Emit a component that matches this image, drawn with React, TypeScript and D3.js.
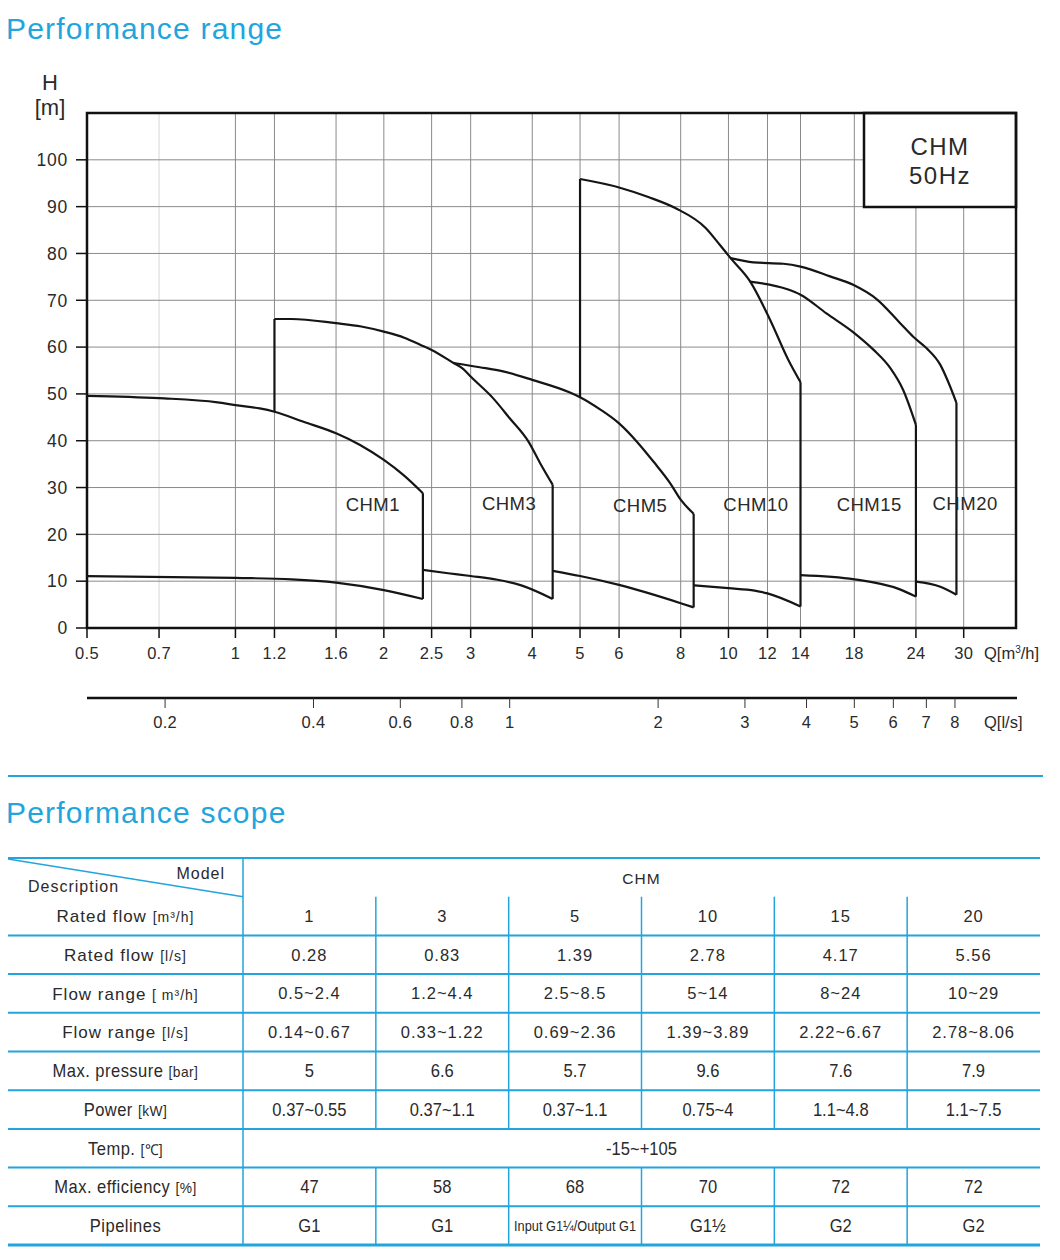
import React from "react";
import * as d3 from "d3";

// ---- chart data ----
const pumpNames = ["CHM1", "CHM3", "CHM5", "CHM10", "CHM15", "CHM20"];

// upper (max stages) curves
const upperQ = [
  [0.5, 0.7, 0.92, 1, 1.12, 1.2, 1.37, 1.6, 1.79, 2, 2.19, 2.4],
  [1.2, 1.3, 1.6, 1.8, 2, 2.2, 2.37, 2.5, 2.77, 2.9, 3, 3.33, 3.6, 3.93, 4.15, 4.4],
  [2.77, 3.13, 3.49, 4, 4.77, 5, 5.49, 6, 6.52, 7.05, 7.62, 8, 8.5],
  [5, 6, 6.9, 7.8, 9, 9.61, 10.1, 11.07, 12.15, 13.22, 14],
  [11.05, 13.12, 14, 15.8, 18, 19.7, 21.3, 22.6, 24],
  [10.1, 11.24, 12.92, 14, 16.07, 17.9, 20, 22.3, 23.7, 25.2, 26.9, 27.9, 29],
];
const upperH = [
  [49.6, 49.1, 48.2, 47.6, 46.9, 46.2, 44.1, 41.6, 39.1, 35.9, 32.7, 28.8],
  [66.0, 66.0, 65.1, 64.4, 63.3, 62.0, 60.5, 59.4, 56.6, 55.3, 53.7, 49.1, 44.8, 39.8, 35.2, 30.6],
  [56.6, 55.7, 54.8, 53.0, 50.3, 49.3, 46.7, 43.7, 39.8, 35.5, 30.9, 27.4, 24.4],
  [95.9, 94.1, 92.0, 89.7, 85.4, 81.8, 79.0, 74.0, 65.8, 57.3, 52.5],
  [74.0, 72.4, 71.2, 67.2, 63.0, 59.4, 55.5, 50.9, 43.4],
  [79.0, 78.1, 77.8, 77.2, 75.1, 73.3, 70.2, 65.1, 62.2, 59.8, 56.2, 52.6, 48.1],
];

// lower (min stages) curves
const lowerQ = [
  [0.5, 1, 1.3, 1.6, 2, 2.4],
  [2.4, 2.7, 3, 3.4, 3.8, 4.4],
  [4.4, 5, 6, 8, 8.5],
  [8.5, 10, 11.3, 12, 14],
  [14, 18, 22.2, 24],
  [24, 26.9, 29],
];
const lowerH = [
  [11.1, 10.7, 10.4, 9.7, 8.1, 6.2],
  [12.4, 11.7, 11.1, 10.3, 9.1, 6.2],
  [12.2, 11.1, 9.2, 5.3, 4.4],
  [9.1, 8.5, 8.0, 7.4, 4.6],
  [11.3, 10.4, 8.3, 6.7],
  [9.9, 8.8, 7.1],
];

// head where a left vertical border stops (null = none)
const leftDropH = [null, 46.2, null, 49.3, null, null];

// label anchor points in data units
const labelQ = [1.9, 3.59, 6.62, 11.37, 19.3, 30.2];
const labelH = [26.5, 26.7, 26.3, 26.5, 26.5, 26.7];

const headTicks = d3.range(0, 101, 10);
const flowTicks = [0.5, 0.7, 1, 1.2, 1.6, 2, 2.5, 3, 4, 5, 6, 8, 10, 12, 14, 18, 24, 30];
const flowGrid = [0.7, 1, 1.2, 1.6, 2, 2.5, 3, 4, 5, 6, 8, 10, 12, 14, 18, 24, 30];
const lsTicks = [0.2, 0.4, 0.6, 0.8, 1, 2, 3, 4, 5, 6, 7, 8];

// ---- table data ----
const ratedFlowM3h = ["1", "3", "5", "10", "15", "20"];
const ratedFlowLs = ["0.28", "0.83", "1.39", "2.78", "4.17", "5.56"];
const flowRangeM3h = ["0.5~2.4", "1.2~4.4", "2.5~8.5", "5~14", "8~24", "10~29"];
const flowRangeLs = ["0.14~0.67", "0.33~1.22", "0.69~2.36", "1.39~3.89", "2.22~6.67", "2.78~8.06"];
const maxPressure = ["5", "6.6", "5.7", "9.6", "7.6", "7.9"];
const powerKw = ["0.37~0.55", "0.37~1.1", "0.37~1.1", "0.75~4", "1.1~4.8", "1.1~7.5"];
const tempRange = "-15~+105";
const maxEfficiency = ["47", "58", "68", "70", "72", "72"];
const pipelines = ["G1", "G1", "Input G1¼/Output G1", "G1½", "G2", "G2"];

const rowNames = [
  ["Rated flow", "[m³/h]"],
  ["Rated flow", "[l/s]"],
  ["Flow range", "[ m³/h]"],
  ["Flow range", "[l/s]"],
  ["Max. pressure", "[bar]"],
  ["Power", "[kW]"],
  ["Temp.", "[℃]"],
  ["Max. efficiency", "[%]"],
  ["Pipelines", ""],
];
const rowValues: (string[] | string)[] = [
  ratedFlowM3h, ratedFlowLs, flowRangeM3h, flowRangeLs,
  maxPressure, powerKw, tempRange, maxEfficiency, pipelines,
];

const BLUE = "#22a5dd";
const INK = "#2a2a2a";
const FONT = "'Liberation Sans', Arial, sans-serif";

// squeeze a text horizontally around its anchor
const squeeze = (cx: number, k: number) => `translate(${cx},0) scale(${k},1) translate(${-cx},0)`;

export default function App() {
  const x = d3.scaleLog().domain([0.5, 38.3]).range([87, 1016]);
  const xLs = d3.scaleLog().domain([0.5 / 3.6, 38.3 / 3.6]).range([87, 1016]);
  const y = d3.scaleLinear().domain([0, 110]).range([628, 113]);
  const [x0, x1] = x.range();
  const [yb, yt] = y.range();

  const line = d3
    .line<[number, number]>()
    .x((d) => x(d[0]))
    .y((d) => y(d[1]))
    .curve(d3.curveMonotoneX);

  // table layout
  const tLeft = 8, tRight = 1040, descW = 243;
  const colX = d3.range(7).map((i) => descW + (i * (tRight - descW)) / 6);
  const tTop = 858, rowH = 38.7;
  const rowTop = (i: number) => tTop + rowH * (i + 1);
  const midAll = (descW + tRight) / 2;

  return (
    <svg
      width={1060}
      height={1260}
      style={{ position: "absolute", left: 0, top: 0, background: "#fff" }}
      fontFamily={FONT}
    >
      <rect width={1060} height={1260} fill="#fff" />
      <text x={6} y={39} fontSize={30} letterSpacing={1.2} fill={BLUE}>Performance range</text>

      {/* grid */}
      {flowGrid.map((q) => (
        <line key={"gx" + q} x1={x(q)} x2={x(q)} y1={yt} y2={yb}
          stroke={q === 0.7 ? "#d8d8d8" : "#8a8a8a"} strokeWidth={1} />
      ))}
      {headTicks.filter((h) => h > 0).map((h) => (
        <line key={"gy" + h} x1={x0} x2={x1} y1={y(h)} y2={y(h)} stroke="#8a8a8a" strokeWidth={1} />
      ))}

      {/* label box */}
      <rect x={864} y={yt} width={x1 - 864} height={94} fill="#fff" stroke="#111" strokeWidth={2.5} />
      <text x={940} y={155} fontSize={24} letterSpacing={1.5} textAnchor="middle" fill={INK}>CHM</text>
      <text x={940} y={184} fontSize={24} letterSpacing={1.5} textAnchor="middle" fill={INK}>50Hz</text>

      {/* frame */}
      <rect x={x0} y={yt} width={x1 - x0} height={yb - yt} fill="none" stroke="#111" strokeWidth={2.5} />

      {/* y axis */}
      {headTicks.map((h) => (
        <g key={"ty" + h}>
          <line x1={x0 - 11} x2={x0} y1={y(h)} y2={y(h)} stroke="#111" strokeWidth={1.5} />
          <text x={68} y={y(h)} dy="0.36em" fontSize={17.5} letterSpacing={0.8} textAnchor="end" fill={INK}>{h}</text>
        </g>
      ))}
      <text x={50} y={90} fontSize={22} textAnchor="middle" fill={INK}>H</text>
      <text x={50} y={115} fontSize={22} textAnchor="middle" fill={INK}>[m]</text>

      {/* x axis m3/h */}
      {flowTicks.map((q) => (
        <g key={"tx" + q}>
          <line x1={x(q)} x2={x(q)} y1={yb} y2={yb + 10} stroke="#111" strokeWidth={1.5} />
          <text x={x(q)} y={659} fontSize={16.5} letterSpacing={0.3} textAnchor="middle" fill={INK}>{q}</text>
        </g>
      ))}
      <text x={984} y={659} fontSize={16.5} fill={INK}>
        Q[m<tspan dy={-6} fontSize={10}>3</tspan><tspan dy={6}>/h]</tspan>
      </text>

      {/* x axis l/s */}
      <line x1={x0} x2={x1 + 1} y1={698} y2={698} stroke="#111" strokeWidth={2.5} />
      {lsTicks.map((q) => (
        <g key={"tl" + q}>
          <line x1={xLs(q)} x2={xLs(q)} y1={698} y2={708} stroke="#333" strokeWidth={1} />
          <text x={xLs(q)} y={728} fontSize={16.5} letterSpacing={0.3} textAnchor="middle" fill={INK}>{q}</text>
        </g>
      ))}
      <text x={984} y={728} fontSize={16.5} fill={INK}>Q[l/s]</text>

      {/* pump curves */}
      {pumpNames.map((name, i) => {
        const up = upperQ[i].map((q, j) => [q, upperH[i][j]] as [number, number]);
        const lo = lowerQ[i].map((q, j) => [q, lowerH[i][j]] as [number, number]);
        const last = up[up.length - 1];
        const lastLo = lo[lo.length - 1];
        const drop = leftDropH[i];
        return (
          <g key={name} fill="none" stroke="#151515" strokeWidth={2.2} strokeLinejoin="round">
            <path d={line(up) || ""} />
            <path d={line(lo) || ""} />
            <line x1={x(last[0])} x2={x(last[0])} y1={y(last[1])} y2={y(lastLo[1])} />
            {drop !== null && (
              <line x1={x(up[0][0])} x2={x(up[0][0])} y1={y(up[0][1])} y2={y(drop)} />
            )}
            <text x={x(labelQ[i])} y={y(labelH[i])} dy="0.36em" textAnchor="middle"
              fontSize={18.5} letterSpacing={0.5} fill={INK} stroke="none">{name}</text>
          </g>
        );
      })}

      {/* separator */}
      <line x1={8} x2={1043} y1={776} y2={776} stroke={BLUE} strokeWidth={2} />
      <text x={6} y={823} fontSize={30} letterSpacing={1.2} fill={BLUE}>Performance scope</text>

      {/* table */}
      <g fill={INK}>
        <line x1={tLeft} x2={tRight} y1={tTop} y2={tTop} stroke={BLUE} strokeWidth={2} />
        <line x1={tLeft} x2={descW} y1={tTop + 1} y2={rowTop(0)} stroke={BLUE} strokeWidth={1.5} />
        <text x={225} y={879} fontSize={16} letterSpacing={1} textAnchor="end">Model</text>
        <text x={28} y={892} fontSize={16} letterSpacing={1}>Description</text>
        <text x={midAll} y={884} fontSize={15.5} letterSpacing={1} textAnchor="middle">CHM</text>
        {rowNames.map((rn, i) => {
          const yc = rowTop(i) + rowH / 2;
          const narrow = i >= 4;
          const vals = rowValues[i];
          const cx = (tLeft + descW) / 2;
          return (
            <g key={"r" + i}>
              <line x1={tLeft} x2={tRight} y1={rowTop(i + 1)} y2={rowTop(i + 1)}
                stroke={BLUE} strokeWidth={i === 8 ? 3 : 2} />
              <g transform={narrow ? squeeze(cx, 0.92) : undefined}>
                <text x={cx} y={yc} dy="0.36em" textAnchor="middle"
                  fontSize={narrow ? 18 : 17} letterSpacing={narrow ? 0.5 : 1}>
                  {rn[0]}{rn[1] ? "  " : ""}<tspan fontSize={narrow ? 15 : 14}>{rn[1]}</tspan>
                </text>
              </g>
              {typeof vals === "string" ? (
                <g transform={squeeze(midAll, 0.92)}>
                  <text x={midAll} y={yc} dy="0.36em" textAnchor="middle" fontSize={18}>{vals}</text>
                </g>
              ) : (
                vals.map((v, j) => {
                  const vx = (colX[j] + colX[j + 1]) / 2;
                  const long = v.length > 12;
                  if (long)
                    return (
                      <text key={j} x={vx} y={yc} dy="0.36em" textAnchor="middle" fontSize={15}
                        textLength={122} lengthAdjust="spacingAndGlyphs">{v}</text>
                    );
                  return (
                    <g key={j} transform={narrow ? squeeze(vx, 0.92) : undefined}>
                      <text x={vx} y={yc} dy="0.36em" textAnchor="middle"
                        fontSize={narrow ? 18 : 16.5} letterSpacing={narrow ? 0 : 1}>{v}</text>
                    </g>
                  );
                })
              )}
            </g>
          );
        })}
        {colX.map((cx, k) => {
          if (k === 6) return null;
          if (k === 0)
            return <line key={"c" + k} x1={cx} x2={cx} y1={tTop} y2={rowTop(9)} stroke={BLUE} strokeWidth={1.5} />;
          return (
            <g key={"c" + k}>
              <line x1={cx} x2={cx} y1={rowTop(0)} y2={rowTop(6)} stroke={BLUE} strokeWidth={1.5} />
              <line x1={cx} x2={cx} y1={rowTop(7)} y2={rowTop(9)} stroke={BLUE} strokeWidth={1.5} />
            </g>
          );
        })}
      </g>
    </svg>
  );
}
